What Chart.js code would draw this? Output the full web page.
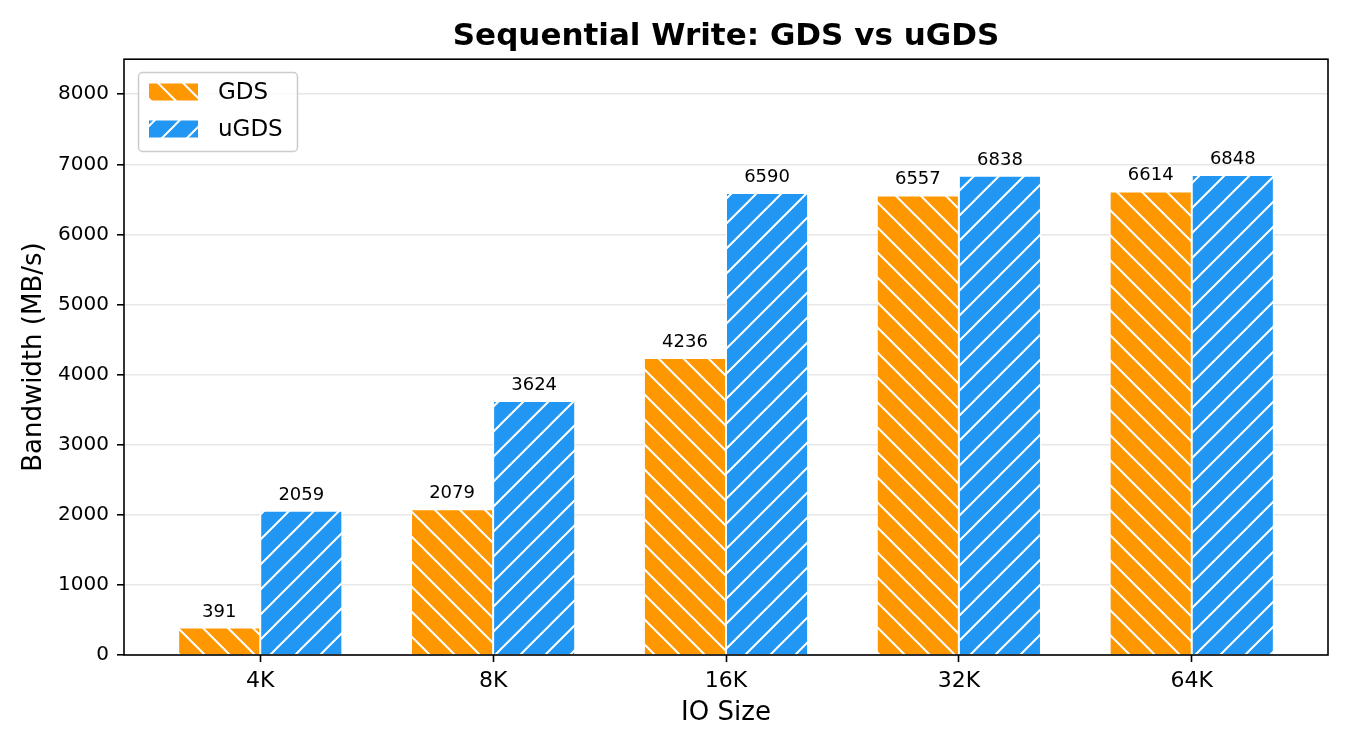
<!DOCTYPE html>
<html>
<head>
<meta charset="utf-8">
<script src="https://cdn.jsdelivr.net/npm/chart.js@4"></script>
<style>
  html, body { margin: 0; padding: 0; background: #fff; }
  canvas { display: block; }
</style>
</head>
<body>
<canvas id="grafico" width="1350" height="750"></canvas>
<script>
const categories = ['4K', '8K', '16K', '32K', '64K'];
const seriesNames = ['GDS', 'uGDS'];
const gdsValues = [391, 2079, 4236, 6557, 6614];
const ugdsValues = [2059, 3624, 6590, 6838, 6848];
const yTicks = [0, 1000, 2000, 3000, 4000, 5000, 6000, 7000, 8000];

const FONT = "'DejaVu Sans', sans-serif";
const ORANGE = '#FF9800';
const BLUE = '#2196F3';

// motivo de hachura, ancorado na origem do canvas como no matplotlib
function criarHachura(cor, direcao) {
    const s = 25;
    const c = document.createElement('canvas');
    c.width = s;
    c.height = s;
    const g = c.getContext('2d');
    g.fillStyle = cor;
    g.fillRect(0, 0, s, s);
    g.strokeStyle = '#ffffff';
    g.lineWidth = 2;
    g.beginPath();
    if (direcao === '/') {
        g.moveTo(-2, s + 2); g.lineTo(s + 2, -2);
        g.moveTo(-2, 2); g.lineTo(2, -2);
        g.moveTo(s - 2, s + 2); g.lineTo(s + 2, s - 2);
    } else {
        g.moveTo(-2, -2); g.lineTo(s + 2, s + 2);
        g.moveTo(s - 2, -2); g.lineTo(s + 2, 2);
        g.moveTo(-2, s - 2); g.lineTo(2, s + 2);
    }
    g.stroke();
    return g.createPattern(c, 'repeat');
}

const hachuraGDS = criarHachura(ORANGE, '\\');
const hachuraUGDS = criarHachura(BLUE, '/');

// rótulos, moldura e legenda desenhados por cima de tudo
const extras = {
    id: 'extras',
    afterDraw(chart) {
        const ctx = chart.ctx;
        const area = chart.chartArea;

        ctx.save();
        ctx.font = '18px ' + FONT;
        ctx.fillStyle = '#000';
        ctx.textAlign = 'center';
        ctx.textBaseline = 'alphabetic';
        chart.data.datasets.forEach((ds, di) => {
            const meta = chart.getDatasetMeta(di);
            meta.data.forEach((bar, i) => {
                ctx.fillText(String(ds.data[i].y), bar.x, bar.y - 11);
            });
        });

        // moldura do eixo
        ctx.strokeStyle = '#000';
        ctx.lineWidth = 1.6;
        ctx.strokeRect(area.left, area.top, area.right - area.left, area.bottom - area.top);

        // legenda
        const lx = 138.5, ly = 72.5, lw = 159, lh = 79;
        ctx.beginPath();
        ctx.roundRect(lx, ly, lw, lh, 4);
        ctx.fillStyle = 'rgba(255,255,255,0.8)';
        ctx.fill();
        ctx.strokeStyle = '#cccccc';
        ctx.lineWidth = 1.5;
        ctx.stroke();

        const linhas = [92, 129];
        ctx.font = '23px ' + FONT;
        ctx.textAlign = 'left';
        ctx.textBaseline = 'middle';
        chart.data.datasets.forEach((ds, di) => {
            const cy = linhas[di];
            ctx.fillStyle = ds.backgroundColor;
            ctx.fillRect(149, cy - 8.5, 49, 17);
            ctx.fillStyle = '#000';
            ctx.fillText(ds.label, 218, cy + 1);
        });
        ctx.restore();
    }
};

const ctx = document.getElementById('grafico').getContext('2d');

new Chart(ctx, {
    type: 'bar',
    data: {
        datasets: [
            {
                label: seriesNames[0],
                data: gdsValues.map((v, i) => ({ x: i, y: v })),
                backgroundColor: hachuraGDS,
                borderColor: '#ffffff',
                borderWidth: 1,
                categoryPercentage: 0.705,
                barPercentage: 1.0
            },
            {
                label: seriesNames[1],
                data: ugdsValues.map((v, i) => ({ x: i, y: v })),
                backgroundColor: hachuraUGDS,
                borderColor: '#ffffff',
                borderWidth: 1,
                categoryPercentage: 0.705,
                barPercentage: 1.0
            }
        ]
    },
    options: {
        responsive: false,
        animation: false,
        devicePixelRatio: 1,
        layout: { padding: { left: 0, right: 22, top: 0, bottom: 0 } },
        plugins: {
            legend: { display: false },
            tooltip: { enabled: false },
            title: {
                display: true,
                fullSize: false,
                text: 'Sequential Write: GDS vs uGDS',
                color: '#000',
                font: { family: FONT, size: 31, weight: 'bold' },
                padding: { top: 18, bottom: 4 }
            }
        },
        scales: {
            x: {
                type: 'linear',
                min: -0.585,
                max: 4.585,
                offset: false,
                grid: {
                    offset: false,
                    drawOnChartArea: false,
                    tickLength: 7,
                    tickColor: '#000',
                    tickWidth: 1.6
                },
                border: { display: false },
                afterBuildTicks: s => { s.ticks = categories.map((_, i) => ({ value: i })); },
                afterFit: s => { s.height = 95; },
                ticks: {
                    color: '#000',
                    padding: 6,
                    font: { family: FONT, size: 22 },
                    callback: v => categories[v]
                },
                title: {
                    display: true,
                    text: 'IO Size',
                    color: '#000',
                    font: { family: FONT, size: 26 },
                    padding: { top: 0, bottom: 21 }
                }
            },
            y: {
                min: 0,
                max: 8500,
                z: 1,
                grid: {
                    color: 'rgba(176,176,176,0.3)',
                    lineWidth: 1.6,
                    tickLength: 7,
                    tickColor: '#000',
                    tickWidth: 1.6
                },
                border: { display: false },
                afterBuildTicks: s => { s.ticks = yTicks.map(v => ({ value: v })); },
                afterFit: s => { s.width = 124; },
                ticks: {
                    color: '#000',
                    padding: 8,
                    font: { family: FONT, size: 20 },
                    callback: v => String(v)
                },
                title: {
                    display: true,
                    text: 'Bandwidth (MB/s)',
                    color: '#000',
                    font: { family: FONT, size: 26 },
                    padding: { top: 19, bottom: 0 }
                }
            }
        }
    },
    plugins: [extras]
});
</script>
</body>
</html>
